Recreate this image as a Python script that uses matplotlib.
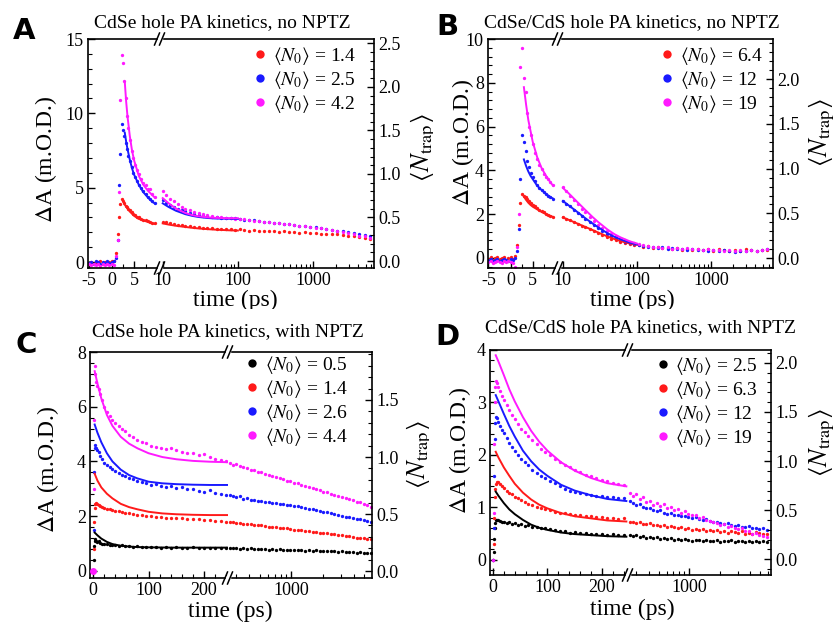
import matplotlib
matplotlib.use('Agg')
import matplotlib.pyplot as plt
from matplotlib.ticker import MultipleLocator, FixedLocator, NullFormatter, FormatStrFormatter
from matplotlib.lines import Line2D
from matplotlib.patches import Rectangle
from matplotlib.transforms import Bbox, TransformedBbox

plt.rcParams['font.family'] = ['Liberation Serif', 'DejaVu Serif']
plt.rcParams['mathtext.fontset'] = 'stix'
plt.rcParams['axes.unicode_minus'] = False

W, H = 838, 624
RED, BLUE, MAG, BLK = '#ff1a1a', '#1a1aff', '#ff1aff', '#000000'

# ---------------- data ----------------
# panel A, linear part (ps) and log part
tA1 = [-5, -4.5, -4, -3.5, -3, -2.5, -2, -1.5, -1, -0.5,
       0, 0.5, 1.0, 1.3, 1.6, 1.9, 2.2, 2.5, 2.8, 3.1,
       3.4, 3.7, 4.0, 4.4, 4.8, 5.2, 5.6, 6.0, 6.5, 7.0,
       7.5, 8.0, 8.5, 9.0, 9.5]
redA1 = [-0.1, 0.0, -0.1, 0.0, -0.05, 0.05, -0.1, 0.0, -0.05, 0.0,
         0.05, 0.1, 0.6, 1.9, 3.0, 3.9, 4.25, 4.1, 3.95, 3.8,
         3.7, 3.6, 3.5, 3.35, 3.25, 3.15, 3.05, 3.0, 2.9, 2.85,
         2.8, 2.75, 2.7, 2.65, 2.6]
blueA1 = [-0.05, 0.0, -0.1, 0.05, 0.0, -0.1, 0.0, -0.05, 0.05, -0.05,
          0.0, 0.1, 0.3, 1.5, 5.2, 7.3, 9.3, 8.9, 8.5, 8.0,
          7.6, 7.1, 6.8, 6.4, 6.0, 5.7, 5.45, 5.2, 4.95, 4.75,
          4.55, 4.4, 4.25, 4.1, 3.95]
magA1 = [-0.15, -0.2, -0.1, -0.2, -0.15, -0.25, -0.1, -0.2, -0.15, -0.2,
         -0.1, -0.2, 0.4, 1.5, 4.7, 10.9, 13.9, 13.4, 12.2, 11.0,
         9.8, 9.0, 8.2, 7.5, 7.0, 6.5, 6.2, 5.9, 5.6, 5.3,
         5.2, 4.9, 4.9, 4.6, 4.4]
tfA1 = [2.9, 3.2, 3.5, 4.0, 4.5, 5.0, 6.0, 7.0, 8.0, 9.0, 9.5]
redfA1 = [3.85, 3.75, 3.6, 3.4, 3.25, 3.1, 2.9, 2.8, 2.7, 2.6, 2.57]
bluefA1 = [8.7, 8.1, 7.6, 6.9, 6.3, 5.85, 5.2, 4.7, 4.35, 4.05, 3.95]
magfA1 = [12.1, 10.8, 9.8, 8.5, 7.5, 6.8, 5.8, 5.2, 4.8, 4.5, 4.35]

t_log_ab = [10, 11, 12.5, 14, 16, 18, 20, 23, 26, 30,
            34, 39, 45, 52, 60, 69, 80, 92, 106, 122,
            141, 163, 190, 220, 260, 300, 350, 410, 480, 560,
            660, 780, 920, 1080, 1280, 1500, 1780, 2100, 2500, 2950,
            3500, 4150, 4900, 5800]
tf_log_ab = [10, 12, 15, 20, 25, 30, 40, 50, 60, 80, 100]

redA2 = [2.72, 2.66, 2.6, 2.55, 2.5, 2.46, 2.43, 2.4, 2.36, 2.33,
         2.31, 2.28, 2.27, 2.24, 2.22, 2.23, 2.2, 2.17, 2.19, 2.15,
         2.12, 2.14, 2.1, 2.11, 2.07, 2.09, 2.05, 2.06, 2.02, 2.03,
         1.98, 2.0, 1.95, 1.96, 1.9, 1.92, 1.86, 1.87, 1.8, 1.78,
         1.72, 1.66, 1.6, 1.55]
blueA2 = [4.15, 4.0, 3.85, 3.72, 3.6, 3.5, 3.42, 3.32, 3.25, 3.18,
          3.12, 3.08, 3.04, 3.0, 2.98, 2.96, 2.95, 2.93, 2.9, 2.86,
          2.82, 2.8, 2.74, 2.72, 2.68, 2.65, 2.6, 2.58, 2.54, 2.5,
          2.45, 2.42, 2.38, 2.33, 2.28, 2.24, 2.18, 2.12, 2.06, 2.0,
          1.93, 1.87, 1.8, 1.74]
magA2 = [4.75, 4.5, 4.25, 4.1, 3.9, 3.72, 3.6, 3.5, 3.38, 3.3,
         3.22, 3.15, 3.1, 3.05, 3.0, 2.97, 2.95, 2.92, 2.9, 2.87,
         2.83, 2.78, 2.76, 2.7, 2.68, 2.62, 2.6, 2.55, 2.53, 2.47,
         2.43, 2.4, 2.35, 2.3, 2.3, 2.22, 2.15, 2.12, 2.0, 1.95,
         1.88, 1.78, 1.72, 1.65]
redfA2 = [2.6, 2.52, 2.44, 2.36, 2.3, 2.26, 2.21, 2.18, 2.16, 2.13, 2.12]
bluefA2 = [3.95, 3.7, 3.45, 3.22, 3.1, 3.03, 2.96, 2.93, 2.92, 2.91, 2.9]
magfA2 = [4.3, 3.95, 3.6, 3.3, 3.15, 3.08, 3.0, 2.97, 2.96, 2.95, 2.95]

# panel B
tB1 = [-5, -4.5, -4, -3.5, -3, -2.5, -2, -1.5, -1, -0.5,
       0, 0.5, 1.0, 1.4, 1.8, 2.2, 2.6, 3.0, 3.4, 3.8,
       4.2, 4.6, 5.0, 5.5, 6.0, 6.5, 7.0, 7.5, 8.0, 8.5,
       9.0, 9.5]
redB1 = [-0.05, 0.05, -0.1, 0.0, 0.05, -0.05, 0.0, 0.05, -0.1, 0.0,
         0.05, -0.05, 0.1, 0.6, 1.5, 2.5, 2.9, 2.85, 2.78, 2.68,
         2.6, 2.5, 2.42, 2.35, 2.28, 2.2, 2.15, 2.08, 2.02, 1.97,
         1.93, 1.89]
blueB1 = [-0.1, -0.05, -0.15, -0.1, -0.05, -0.15, -0.1, -0.05, -0.1, -0.15,
          -0.05, -0.1, 0.0, 0.3, 1.3, 3.6, 5.6, 5.3, 4.9, 4.45,
          4.15, 3.9, 3.7, 3.5, 3.35, 3.2, 3.1, 3.0, 2.92, 2.85,
          2.77, 2.7]
magB1 = [-0.2, -0.15, -0.25, -0.2, -0.15, -0.2, -0.25, -0.15, -0.2, -0.15,
         -0.2, -0.25, -0.4, 0.5, 2.0, 8.7, 9.6, 8.2, 7.6, 6.6,
         6.0, 5.6, 5.2, 4.8, 4.5, 4.25, 4.05, 3.85, 3.7, 3.6,
         3.45, 3.35]
tfB1 = [3.0, 3.5, 4.0, 4.5, 5.0, 6.0, 7.0, 8.0, 9.0, 9.5]
redfB1 = [2.8, 2.65, 2.52, 2.42, 2.34, 2.22, 2.1, 2.0, 1.92, 1.88]
bluefB1 = [4.5, 4.2, 3.95, 3.75, 3.6, 3.3, 3.1, 2.92, 2.78, 2.72]
magfB1 = [7.8, 7.0, 6.3, 5.8, 5.3, 4.6, 4.1, 3.75, 3.45, 3.32]

redB2 = [1.88, 1.8, 1.72, 1.64, 1.55, 1.47, 1.4, 1.32, 1.22, 1.12,
         1.03, 0.95, 0.88, 0.82, 0.75, 0.7, 0.64, 0.6, 0.57, 0.52,
         0.55, 0.47, 0.5, 0.44, 0.46, 0.4, 0.45, 0.38, 0.42, 0.37,
         0.43, 0.36, 0.4, 0.33, 0.41, 0.35, 0.3, 0.38, 0.32, 0.4,
         0.34, 0.3, 0.37, 0.36]
blueB2 = [2.62, 2.48, 2.35, 2.2, 2.05, 1.92, 1.8, 1.65, 1.5, 1.35,
          1.22, 1.1, 1.0, 0.9, 0.82, 0.75, 0.68, 0.62, 0.58, 0.55,
          0.5, 0.52, 0.46, 0.48, 0.43, 0.45, 0.4, 0.42, 0.38, 0.4,
          0.35, 0.37, 0.33, 0.36, 0.3, 0.34, 0.32, 0.29, 0.33, 0.31,
          0.36, 0.3, 0.34, 0.4]
magB2 = [3.25, 3.05, 2.85, 2.65, 2.45, 2.25, 2.08, 1.88, 1.7, 1.52,
         1.38, 1.22, 1.1, 0.98, 0.88, 0.8, 0.73, 0.67, 0.62, 0.57,
         0.55, 0.5, 0.52, 0.47, 0.49, 0.43, 0.46, 0.4, 0.44, 0.39,
         0.42, 0.37, 0.4, 0.35, 0.38, 0.33, 0.36, 0.31, 0.34, 0.3,
         0.35, 0.32, 0.38, 0.4]
redfB2 = [1.85, 1.74, 1.6, 1.42, 1.28, 1.16, 0.98, 0.86, 0.77, 0.66, 0.6]
bluefB2 = [2.6, 2.4, 2.15, 1.82, 1.58, 1.4, 1.13, 0.96, 0.85, 0.7, 0.62]
magfB2 = [3.2, 2.95, 2.62, 2.2, 1.88, 1.64, 1.3, 1.08, 0.94, 0.76, 0.66]

# panels C and D share the time grids
t_lin_cd = [0, 1, 2, 3, 4, 6, 8, 10, 13, 16,
            20, 25, 30, 35, 40, 46, 52, 58, 65, 72,
            80, 88, 96, 105, 114, 123, 132, 141, 150, 160,
            170, 180, 190, 200, 210, 220, 230, 240]
t_log_cd = [260, 280, 300, 325, 350, 380, 410, 445, 480, 520,
            560, 610, 660, 715, 775, 840, 910, 985, 1070, 1160,
            1250, 1360, 1470, 1600, 1730, 1880, 2030, 2200, 2390, 2590,
            2800, 3040, 3300, 3570, 3870, 4200, 4550, 4930, 5340, 5800]

blkC1 = [0.0, 0.4, 0.9, 1.1, 1.15, 1.1, 1.05, 1.08, 1.02, 1.0,
         1.0, 0.97, 0.95, 0.96, 0.93, 0.92, 0.94, 0.9, 0.91, 0.88,
         0.9, 0.87, 0.88, 0.86, 0.89, 0.85, 0.87, 0.84, 0.86, 0.85,
         0.84, 0.86, 0.83, 0.85, 0.84, 0.82, 0.85, 0.83]
redC1 = [0.0, 0.8, 1.8, 2.3, 2.45, 2.47, 2.44, 2.4, 2.38, 2.35,
         2.3, 2.28, 2.25, 2.22, 2.2, 2.18, 2.15, 2.12, 2.1, 2.08,
         2.06, 2.04, 2.02, 2.0, 1.98, 1.97, 1.95, 1.94, 1.93, 1.92,
         1.9, 1.9, 1.88, 1.87, 1.86, 1.84, 1.82, 1.78]
blueC1 = [0.0, 1.5, 3.6, 4.5, 4.6, 4.5, 4.4, 4.35, 4.2, 4.1,
          3.95, 3.88, 3.8, 3.72, 3.65, 3.57, 3.52, 3.45, 3.4, 3.35,
          3.3, 3.25, 3.2, 3.15, 3.18, 3.1, 3.05, 3.12, 3.02, 3.05,
          2.98, 3.0, 2.92, 2.88, 2.94, 2.85, 2.8, 2.78]
magC1 = [0.0, 3.0, 5.5, 7.5, 7.2, 6.9, 6.75, 6.65, 6.45, 6.25,
         6.0, 5.8, 5.65, 5.5, 5.4, 5.3, 5.2, 5.1, 4.98, 4.88,
         4.8, 4.72, 4.66, 4.55, 4.52, 4.5, 4.46, 4.48, 4.42, 4.36,
         4.32, 4.3, 4.25, 4.28, 4.18, 4.1, 4.05, 4.0]
tf_lin_c = [3, 8, 15, 25, 35, 50, 65, 80, 100, 125, 150, 180, 210, 245]
blkfC1 = [1.4, 1.3, 1.18, 1.06, 0.98, 0.92, 0.89, 0.87, 0.86, 0.855, 0.85, 0.85, 0.85, 0.85]
redfC1 = [3.55, 3.3, 3.05, 2.82, 2.65, 2.45, 2.33, 2.25, 2.16, 2.1, 2.07, 2.05, 2.04, 2.04]
bluefC1 = [5.35, 5.05, 4.7, 4.3, 4.0, 3.7, 3.5, 3.38, 3.26, 3.2, 3.17, 3.15, 3.14, 3.14]
magfC1 = [7.3, 6.85, 6.3, 5.7, 5.3, 4.9, 4.65, 4.48, 4.3, 4.16, 4.08, 4.02, 3.99, 3.97]

magC2 = [3.93, 3.88, 3.9, 3.82, 3.78, 3.75, 3.7, 3.68, 3.62, 3.6,
         3.55, 3.5, 3.48, 3.42, 3.4, 3.35, 3.3, 3.28, 3.22, 3.2,
         3.15, 3.1, 3.08, 3.02, 3.0, 2.95, 2.9, 2.88, 2.82, 2.78,
         2.75, 2.7, 2.65, 2.62, 2.58, 2.52, 2.5, 2.45, 2.4, 2.35]
blueC2 = [2.78, 2.75, 2.7, 2.72, 2.62, 2.66, 2.6, 2.58, 2.55, 2.56,
          2.52, 2.5, 2.47, 2.48, 2.44, 2.45, 2.42, 2.4, 2.38, 2.36,
          2.33, 2.3, 2.28, 2.25, 2.22, 2.2, 2.17, 2.14, 2.1, 2.08,
          2.04, 2.02, 1.98, 1.96, 1.93, 1.9, 1.88, 1.85, 1.82, 1.79]
redC2 = [1.8, 1.78, 1.76, 1.75, 1.72, 1.72, 1.7, 1.68, 1.66, 1.66,
         1.64, 1.62, 1.6, 1.6, 1.58, 1.56, 1.55, 1.52, 1.5, 1.5,
         1.48, 1.46, 1.45, 1.43, 1.42, 1.4, 1.4, 1.37, 1.35, 1.36,
         1.32, 1.3, 1.28, 1.27, 1.25, 1.22, 1.2, 1.2, 1.17, 1.15]
blkC2 = [0.83, 0.82, 0.84, 0.81, 0.82, 0.8, 0.83, 0.8, 0.81, 0.79,
         0.8, 0.78, 0.8, 0.77, 0.79, 0.78, 0.76, 0.78, 0.77, 0.75,
         0.77, 0.74, 0.76, 0.73, 0.75, 0.74, 0.72, 0.74, 0.71, 0.73,
         0.7, 0.72, 0.7, 0.68, 0.7, 0.67, 0.69, 0.66, 0.67, 0.65]

blkD1 = [0.0, 0.15, 0.4, 0.6, 0.7, 0.75, 0.76, 0.75, 0.74, 0.72,
         0.73, 0.7, 0.72, 0.68, 0.7, 0.67, 0.69, 0.65, 0.66, 0.63,
         0.62, 0.6, 0.61, 0.58, 0.56, 0.55, 0.54, 0.52, 0.53, 0.51,
         0.52, 0.5, 0.5, 0.49, 0.48, 0.5, 0.47, 0.48]
redD1 = [0.0, 0.3, 0.8, 1.2, 1.35, 1.45, 1.49, 1.48, 1.45, 1.4,
         1.36, 1.32, 1.27, 1.25, 1.2, 1.18, 1.14, 1.1, 1.06, 1.04,
         1.0, 0.98, 0.96, 0.94, 0.92, 0.9, 0.9, 0.88, 0.86, 0.86,
         0.84, 0.83, 0.82, 0.82, 0.8, 0.8, 0.78, 0.79]
blueD1 = [0.0, 0.6, 1.6, 2.3, 2.6, 2.72, 2.7, 2.62, 2.55, 2.48,
          2.42, 2.32, 2.22, 2.15, 2.08, 2.0, 1.92, 1.87, 1.8, 1.72,
          1.66, 1.6, 1.56, 1.5, 1.46, 1.4, 1.35, 1.31, 1.29, 1.27,
          1.25, 1.24, 1.22, 1.21, 1.2, 1.19, 1.18, 1.17]
magD1 = [0.0, 0.9, 2.2, 3.0, 3.3, 3.4, 3.38, 3.3, 3.22, 3.12,
         3.05, 2.95, 2.85, 2.76, 2.68, 2.58, 2.5, 2.44, 2.36, 2.28,
         2.2, 2.12, 2.06, 2.0, 1.92, 1.86, 1.8, 1.76, 1.72, 1.68,
         1.62, 1.6, 1.55, 1.52, 1.5, 1.47, 1.45, 1.43]
tf_lin_d = [5, 10, 20, 30, 40, 55, 70, 85, 100, 125, 150, 180, 210, 245]
blkfD1 = [1.3, 1.22, 1.08, 0.96, 0.87, 0.76, 0.67, 0.61, 0.57, 0.52, 0.49, 0.47, 0.45, 0.44]
redfD1 = [2.06, 1.95, 1.76, 1.6, 1.45, 1.28, 1.15, 1.05, 0.98, 0.89, 0.83, 0.79, 0.75, 0.73]
bluefD1 = [3.14, 3.02, 2.78, 2.55, 2.35, 2.08, 1.88, 1.72, 1.6, 1.43, 1.32, 1.23, 1.16, 1.12]
magfD1 = [3.9, 3.78, 3.52, 3.25, 3.02, 2.72, 2.46, 2.25, 2.08, 1.86, 1.7, 1.56, 1.46, 1.4]

magD2 = [1.27, 1.22, 1.25, 1.15, 1.2, 1.1, 1.12, 1.05, 1.08, 1.02,
         1.06, 0.98, 1.0, 0.95, 0.97, 0.9, 0.93, 0.88, 0.86, 0.85,
         0.8, 0.82, 0.76, 0.74, 0.72, 0.7, 0.66, 0.68, 0.63, 0.64,
         0.6, 0.58, 0.6, 0.55, 0.54, 0.5, 0.52, 0.48, 0.46, 0.44]
blueD2 = [1.12, 1.08, 1.05, 1.06, 1.0, 0.98, 0.99, 0.95, 0.93, 0.94,
          0.9, 0.88, 0.89, 0.86, 0.85, 0.84, 0.83, 0.82, 0.8, 0.81,
          0.78, 0.76, 0.77, 0.74, 0.72, 0.73, 0.7, 0.68, 0.7, 0.66,
          0.65, 0.66, 0.63, 0.62, 0.64, 0.6, 0.61, 0.58, 0.6, 0.57]
redD2 = [0.73, 0.72, 0.7, 0.72, 0.69, 0.68, 0.7, 0.66, 0.67, 0.65,
         0.66, 0.63, 0.64, 0.62, 0.6, 0.62, 0.59, 0.6, 0.57, 0.58,
         0.56, 0.58, 0.55, 0.57, 0.54, 0.56, 0.53, 0.55, 0.52, 0.54,
         0.53, 0.51, 0.54, 0.5, 0.52, 0.5, 0.53, 0.51, 0.49, 0.5]
blkD2 = [0.48, 0.45, 0.47, 0.43, 0.46, 0.42, 0.44, 0.41, 0.43, 0.4,
         0.42, 0.39, 0.41, 0.38, 0.4, 0.37, 0.39, 0.38, 0.36, 0.38,
         0.37, 0.35, 0.38, 0.36, 0.35, 0.37, 0.34, 0.36, 0.35, 0.37,
         0.34, 0.36, 0.35, 0.33, 0.36, 0.34, 0.35, 0.33, 0.35, 0.34]

labelsA = ['1.4', '2.5', '4.2']
labelsB = ['6.4', '12', '19']
labelsC = ['0.5', '1.4', '2.6', '4.4']
labelsD = ['2.5', '6.3', '12', '19']

# ---------------- figure ----------------
fig = plt.figure(figsize=(W / 100, H / 100), dpi=100)


def rect(x0, x1, top, bot):
    return [x0 / W, 1 - bot / H, (x1 - x0) / W, (bot - top) / H]


def fx(x):
    return x / W


def fy(y):
    return 1 - y / H


def make_panel(x0, xb, x1, top, bot):
    axL = fig.add_axes(rect(x0, xb, top, bot))
    axR = fig.add_axes(rect(xb, x1, top, bot))
    axN = fig.add_axes(rect(x0, x1, top, bot))
    axN.patch.set_visible(False)
    for s in ['left', 'top', 'bottom']:
        axN.spines[s].set_visible(False)
    axN.xaxis.set_visible(False)
    axN.yaxis.tick_right()
    axL.spines['right'].set_visible(False)
    axR.spines['left'].set_visible(False)
    axR.spines['right'].set_visible(False)
    axR.tick_params(axis='y', which='both', left=False, right=False, labelleft=False)
    for ax in (axL, axR, axN):
        for s in ax.spines.values():
            s.set_linewidth(1.2)
        ax.tick_params(which='both', direction='in', labelsize=13, top=False, pad=3)
        ax.tick_params(which='major', length=5, width=1)
        ax.tick_params(which='minor', length=3, width=0.8)
    # break marks
    for y in (top, bot):
        fig.add_artist(Rectangle((fx(xb - 2), fy(y + 2)), 4 / W, 4 / H,
                                 transform=fig.transFigure, color='white', zorder=20))
        for dx in (-3, 2):
            fig.add_artist(Line2D([fx(xb + dx - 2.5), fx(xb + dx + 2.5)],
                                  [fy(y + 6), fy(y - 6)], transform=fig.transFigure,
                                  color='black', lw=1.1, zorder=21))
    return axL, axR, axN


def draw(ax, t, y, c):
    ax.plot(t, y, 'o', ms=2.4, mec='none', color=c, zorder=2, clip_on=True)


def fit(ax, t, y, c):
    ax.plot(t, y, '-', lw=1.4, color=c, zorder=3)


def legend(ax, colors, vals, x, y):
    handles = [Line2D([0], [0], marker='o', ls='none', color=c, mec='none', markersize=6)
               for c in colors]
    labels = [r'$\langle N_0\rangle$ = ' + v for v in vals]
    ax.legend(handles, labels, loc='upper right', bbox_to_anchor=(fx(x), fy(y)),
              bbox_transform=fig.transFigure, frameon=False, fontsize=14,
              handlelength=0.6, handletextpad=0.35, labelspacing=0.1,
              borderpad=0, borderaxespad=0)


def log_ticks(ax, majors, minors):
    ax.set_xscale('log')
    ax.xaxis.set_major_locator(FixedLocator(majors))
    ax.xaxis.set_major_formatter(FormatStrFormatter('%d'))
    ax.xaxis.set_minor_locator(FixedLocator(minors))
    ax.xaxis.set_minor_formatter(NullFormatter())


def clipped_text(x, y, s, xmax=None, ymax=None, **kw):
    t = fig.text(fx(x), fy(y), s, ha='center', va='center', **kw)
    x1 = fx(xmax) if xmax is not None else 1
    y0 = fy(ymax) if ymax is not None else 0
    t.set_clip_box(TransformedBbox(Bbox.from_extents(0, y0, x1, 1), fig.transFigure))
    t.set_clip_on(True)
    return t


minors_ab = [20, 30, 40, 50, 60, 70, 80, 90, 200, 300, 400, 500, 600, 700, 800, 900,
             2000, 3000, 4000, 5000, 6000]
minors_cd = [300, 400, 500, 600, 700, 800, 900, 2000, 3000, 4000, 5000, 6000]
ylab = r'$\Delta$A (m.O.D.)'
nlab = r'$\left\langle N_{\mathrm{trap}}\right\rangle$'

# ---- panel A ----
aL, aR, aN = make_panel(88, 160, 374, 39, 268)
for t1, y1, tf1, yf1, y2, yf2, c in [
        (tA1, redA1, tfA1, redfA1, redA2, redfA2, RED),
        (tA1, blueA1, tfA1, bluefA1, blueA2, bluefA2, BLUE),
        (tA1, magA1, tfA1, magfA1, magA2, magfA2, MAG)]:
    draw(aL, t1, y1, c)
    fit(aL, tf1, yf1, c)
    draw(aR, t_log_ab, y2, c)
    fit(aR, tf_log_ab, yf2, c)
aL.set_xlim(-5.25, 10.7)
aR.set_xlim(9.2, 6480)
for ax in (aL, aR):
    ax.set_ylim(-0.4, 15.0)
aN.set_ylim(-0.08, 2.55)
aL.xaxis.set_major_locator(FixedLocator([-5, 0, 5]))
aL.xaxis.set_minor_locator(FixedLocator([2.5, 7.5]))
aL.yaxis.set_major_locator(MultipleLocator(5))
aL.yaxis.set_minor_locator(MultipleLocator(1))
log_ticks(aR, [10, 100, 1000], minors_ab)
aN.yaxis.set_major_locator(MultipleLocator(0.5))
aN.yaxis.set_minor_locator(MultipleLocator(0.1))
aN.yaxis.set_major_formatter(FormatStrFormatter('%.1f'))
legend(aR, [RED, BLUE, MAG], labelsA, 356, 45)

# ---- panel B ----
bL, bR, bN = make_panel(488, 558, 773, 39, 268)
for t1, y1, tf1, yf1, y2, yf2, c in [
        (tB1, redB1, tfB1, redfB1, redB2, redfB2, RED),
        (tB1, blueB1, tfB1, bluefB1, blueB2, bluefB2, BLUE),
        (tB1, magB1, tfB1, magfB1, magB2, magfB2, MAG)]:
    draw(bL, t1, y1, c)
    fit(bL, tf1, yf1, c)
    draw(bR, t_log_ab, y2, c)
    fit(bR, tf_log_ab, yf2, c)
bL.set_xlim(-5.1, 10.7)
bR.set_xlim(8.6, 6900)
for ax in (bL, bR):
    ax.set_ylim(-0.46, 10.0)
bN.set_ylim(-0.11, 2.45)
bL.xaxis.set_major_locator(FixedLocator([-5, 0, 5]))
bL.xaxis.set_minor_locator(FixedLocator([2.5, 7.5]))
bL.yaxis.set_major_locator(MultipleLocator(2))
bL.yaxis.set_minor_locator(MultipleLocator(0.4))
log_ticks(bR, [10, 100, 1000], minors_ab)
bN.yaxis.set_major_locator(MultipleLocator(0.5))
bN.yaxis.set_minor_locator(MultipleLocator(0.1))
bN.yaxis.set_major_formatter(FormatStrFormatter('%.1f'))
legend(bR, [RED, BLUE, MAG], labelsB, 763, 45)

# ---- panel C ----
cL, cR, cN = make_panel(90, 228, 372, 352, 578)
for y1, yf1, y2, c in [(blkC1, blkfC1, blkC2, BLK), (redC1, redfC1, redC2, RED),
                       (blueC1, bluefC1, blueC2, BLUE), (magC1, magfC1, magC2, MAG)]:
    draw(cL, t_lin_cd, y1, c)
    fit(cL, tf_lin_c, yf1, c)
    draw(cR, t_log_cd, y2, c)
cL.plot([0], [0], 'o', ms=5, color=MAG, mec='none', clip_on=False, zorder=4)
cL.set_xlim(-5.4, 243)
cR.set_xlim(250, 5900)
for ax in (cL, cR):
    ax.set_ylim(-0.26, 8.0)
cN.set_ylim(-0.06, 1.92)
cL.xaxis.set_major_locator(FixedLocator([0, 100, 200]))
cL.xaxis.set_minor_locator(MultipleLocator(20))
cL.yaxis.set_major_locator(MultipleLocator(2))
cL.yaxis.set_minor_locator(MultipleLocator(0.4))
log_ticks(cR, [1000], minors_cd)
cN.yaxis.set_major_locator(MultipleLocator(0.5))
cN.yaxis.set_minor_locator(MultipleLocator(0.1))
cN.yaxis.set_major_formatter(FormatStrFormatter('%.1f'))
legend(cR, [BLK, RED, BLUE, MAG], labelsC, 348, 354)

# ---- panel D ----
dL, dR, dN = make_panel(490, 628, 771, 350, 575)
for y1, yf1, y2, c in [(blkD1, blkfD1, blkD2, BLK), (redD1, redfD1, redD2, RED),
                       (blueD1, bluefD1, blueD2, BLUE), (magD1, magfD1, magD2, MAG)]:
    draw(dL, t_lin_cd, y1, c)
    fit(dL, tf_lin_d, yf1, c)
    draw(dR, t_log_cd, y2, c)
dL.set_xlim(-5.5, 248)
dR.set_xlim(250, 6400)
for ax in (dL, dR):
    ax.set_ylim(-0.29, 4.0)
dN.set_ylim(-0.16, 2.13)
dL.xaxis.set_major_locator(FixedLocator([0, 100, 200]))
dL.xaxis.set_minor_locator(MultipleLocator(20))
dL.yaxis.set_major_locator(MultipleLocator(1))
dL.yaxis.set_minor_locator(MultipleLocator(0.2))
log_ticks(dR, [1000], minors_cd)
dN.yaxis.set_major_locator(MultipleLocator(0.5))
dN.yaxis.set_minor_locator(MultipleLocator(0.1))
dN.yaxis.set_major_formatter(FormatStrFormatter('%.1f'))
legend(dR, [BLK, RED, BLUE, MAG], labelsD, 758, 355)

# ---- texts ----
for x, y, s in [(24, 31, 'A'), (447, 27, 'B'), (26, 345, 'C'), (447, 337, 'D')]:
    fig.text(fx(x), fy(y), s, ha='center', va='center', fontsize=21,
             fontweight='bold', family='DejaVu Sans')

for x, y, s in [(222, 23, 'CdSe hole PA kinetics, no NPTZ'),
                (632, 23, 'CdSe/CdS hole PA kinetics, no NPTZ'),
                (228, 332, 'CdSe hole PA kinetics, with NPTZ'),
                (640, 328, 'CdSe/CdS hole PA kinetics, with NPTZ')]:
    fig.text(fx(x), fy(y), s, ha='center', va='center', fontsize=14)

for x, y in [(46, 160), (463, 143), (48, 470), (460, 451)]:
    fig.text(fx(x), fy(y), ylab, ha='center', va='center', rotation=90, fontsize=17)

clipped_text(235, 300, 'time (ps)', ymax=309, fontsize=17)
clipped_text(632, 300, 'time (ps)', ymax=309, fontsize=17)
clipped_text(230, 611, 'time (ps)', fontsize=17)
clipped_text(632, 609, 'time (ps)', fontsize=17)

clipped_text(424, 148, nlab, xmax=433, rotation=90, fontsize=19)
clipped_text(822, 133, nlab, rotation=90, fontsize=19)
clipped_text(420, 455, nlab, xmax=429, rotation=90, fontsize=19)
clipped_text(822, 443, nlab, rotation=90, fontsize=19)

fig.savefig('out.png', dpi=100)
